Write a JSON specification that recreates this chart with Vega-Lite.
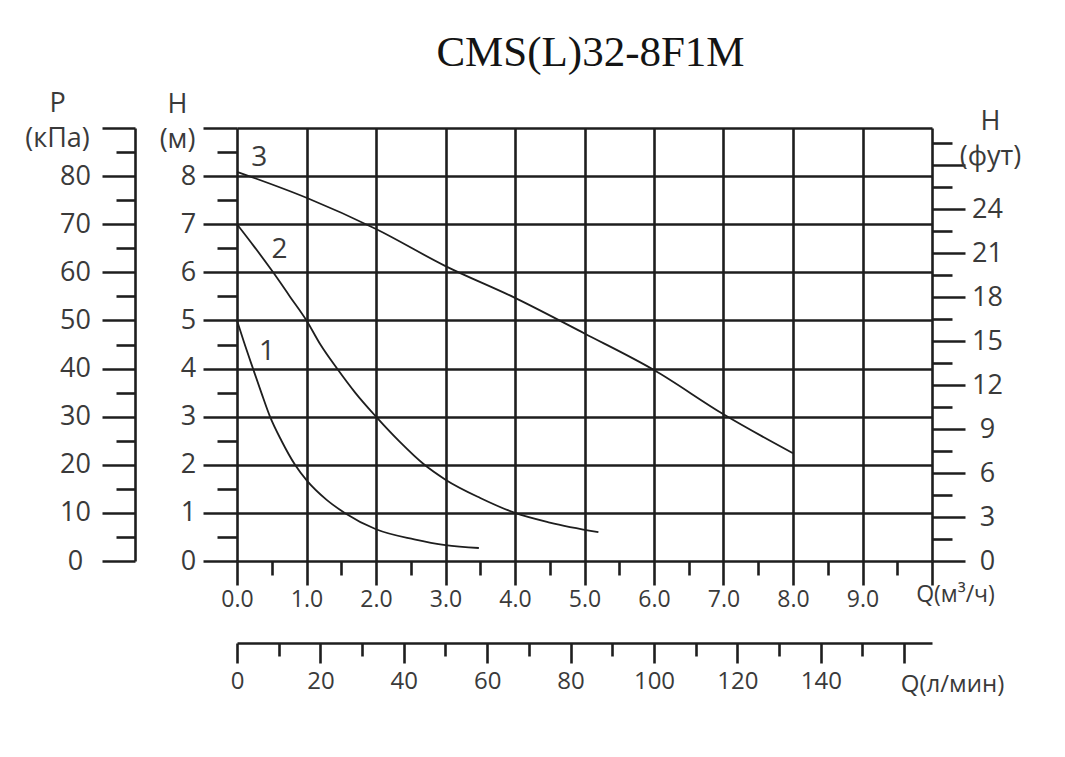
{
  "$schema": "https://vega.github.io/schema/vega-lite/v6.json",
  "autosize": "none",
  "width": 695,
  "height": 433,
  "padding": {"left": 237, "top": 128, "right": 133, "bottom": 196},
  "background": "white",
  "title": {
    "text": "CMS(L)32-8F1M",
    "font": "Liberation Serif",
    "fontSize": 43,
    "fontWeight": "normal",
    "color": "#141414",
    "anchor": "middle",
    "frame": "group",
    "baseline": "alphabetic",
    "offset": -20,
    "dx": 6
  },
  "datasets": {
    "curves": [
      {"curve": "1", "Q": 0, "H": 5.0},
      {"curve": "1", "Q": 0.1, "H": 4.55},
      {"curve": "1", "Q": 0.23, "H": 4.0},
      {"curve": "1", "Q": 0.35, "H": 3.5},
      {"curve": "1", "Q": 0.475, "H": 3.0},
      {"curve": "1", "Q": 0.64, "H": 2.5},
      {"curve": "1", "Q": 0.835, "H": 2.0},
      {"curve": "1", "Q": 1.0, "H": 1.68},
      {"curve": "1", "Q": 1.29, "H": 1.27},
      {"curve": "1", "Q": 1.55, "H": 1.0},
      {"curve": "1", "Q": 2.0, "H": 0.66},
      {"curve": "1", "Q": 2.55, "H": 0.45},
      {"curve": "1", "Q": 3.0, "H": 0.33},
      {"curve": "1", "Q": 3.48, "H": 0.27},
      {"curve": "2", "Q": 0, "H": 7.0},
      {"curve": "2", "Q": 0.25, "H": 6.53},
      {"curve": "2", "Q": 0.52, "H": 6.0},
      {"curve": "2", "Q": 0.76, "H": 5.5},
      {"curve": "2", "Q": 1.0, "H": 5.0},
      {"curve": "2", "Q": 1.2, "H": 4.5},
      {"curve": "2", "Q": 1.44, "H": 4.0},
      {"curve": "2", "Q": 1.7, "H": 3.5},
      {"curve": "2", "Q": 2.0, "H": 3.0},
      {"curve": "2", "Q": 2.34, "H": 2.48},
      {"curve": "2", "Q": 2.68, "H": 2.02},
      {"curve": "2", "Q": 3.0, "H": 1.69},
      {"curve": "2", "Q": 3.5, "H": 1.31},
      {"curve": "2", "Q": 4.0, "H": 1.0},
      {"curve": "2", "Q": 4.5, "H": 0.8},
      {"curve": "2", "Q": 5.2, "H": 0.6},
      {"curve": "3", "Q": 0, "H": 8.09},
      {"curve": "3", "Q": 1, "H": 7.55},
      {"curve": "3", "Q": 2, "H": 6.9},
      {"curve": "3", "Q": 3, "H": 6.13},
      {"curve": "3", "Q": 4, "H": 5.47},
      {"curve": "3", "Q": 5, "H": 4.73},
      {"curve": "3", "Q": 6, "H": 3.97},
      {"curve": "3", "Q": 7, "H": 3.05},
      {"curve": "3", "Q": 8, "H": 2.24}
    ],
    "numbers": [
      {"curve": "1", "Q": 0.43, "H": 4.35},
      {"curve": "2", "Q": 0.61, "H": 6.47},
      {"curve": "3", "Q": 0.32, "H": 8.37}
    ],
    "extents": [
      {"Q": 0, "H": 0, "P": 0, "ft": 0, "lpm": 0},
      {"Q": 10, "H": 9, "P": 90, "ft": 29.53, "lpm": 166.67}
    ]
  },
  "resolve": {
    "scale": {"x": "independent", "y": "independent"},
    "axis": {"x": "independent", "y": "independent"}
  },
  "layer": [
    {
      "data": {"name": "curves"},
      "mark": {"type": "line", "color": "#1e1e1e", "strokeWidth": 1.8, "interpolate": "monotone"},
      "encoding": {
        "detail": {"field": "curve"},
        "x": {
          "field": "Q", "type": "quantitative",
          "scale": {"domain": [0, 10], "nice": false, "zero": false},
          "axis": {
            "orient": "bottom", "values": [0, 1, 2, 3, 4, 5, 6, 7, 8, 9, 10],
            "grid": true, "gridColor": "#1e1e1e", "gridWidth": 2.6, "gridOpacity": 1,
            "domain": false, "tickSize": 24, "tickWidth": 2.6, "tickColor": "#1e1e1e",
            "format": ".1f", "labelExpr": "datum.value < 10 ? datum.label : ''",
            "labelFont": "Open Sans", "labelFontSize": 23, "labelColor": "#3a3a3a",
            "labelPadding": 3, "labelFlush": false, "labelOverlap": false,
            "title": "Q(м³/ч)", "titleX": 718, "titleY": 33, "titleAlign": "center", "titleBaseline": "middle",
            "titleFont": "Open Sans", "titleFontSize": 23, "titleFontWeight": "normal", "titleColor": "#3a3a3a"
          }
        },
        "y": {
          "field": "H", "type": "quantitative",
          "scale": {"domain": [0, 9], "nice": false},
          "axis": {
            "orient": "left", "values": [0, 1, 2, 3, 4, 5, 6, 7, 8, 9],
            "grid": true, "gridColor": "#1e1e1e", "gridWidth": 2.6, "gridOpacity": 1,
            "domain": false, "tickSize": 34, "tickWidth": 2.6, "tickColor": "#1e1e1e",
            "labelExpr": "datum.value < 9 ? datum.label : ''",
            "labelFont": "Open Sans", "labelFontSize": 27, "labelColor": "#3a3a3a",
            "labelAlign": "center", "labelBaseline": "middle", "labelPadding": 15, "labelFlush": false, "labelOverlap": false,
            "title": ["H", "(м)"], "titleAngle": 0, "titleX": -60, "titleY": -24,
            "titleAlign": "center", "titleBaseline": "middle", "titleLineHeight": 35,
            "titleFont": "Open Sans", "titleFontSize": 27, "titleFontWeight": "normal", "titleColor": "#3a3a3a"
          }
        }
      }
    },
    {
      "data": {"name": "numbers"},
      "mark": {"type": "text", "font": "Open Sans", "fontSize": 28, "color": "#3a3a3a", "align": "center", "baseline": "middle"},
      "encoding": {
        "x": {"field": "Q", "type": "quantitative", "scale": {"domain": [0, 10], "nice": false, "zero": false}, "axis": null},
        "y": {"field": "H", "type": "quantitative", "scale": {"domain": [0, 9], "nice": false}, "axis": null},
        "text": {"field": "curve"}
      }
    },
    {
      "data": {"name": "extents"},
      "mark": {"type": "point", "opacity": 0},
      "encoding": {
        "y": {
          "field": "H", "type": "quantitative",
          "scale": {"domain": [0, 9], "nice": false},
          "axis": {
            "orient": "left", "values": [0.5, 1.5, 2.5, 3.5, 4.5, 5.5, 6.5, 7.5, 8.5],
            "grid": false, "domain": false, "labels": false, "title": null,
            "tickSize": 20, "tickWidth": 2.6, "tickColor": "#1e1e1e"
          }
        }
      }
    },
    {
      "data": {"name": "extents"},
      "mark": {"type": "point", "opacity": 0},
      "encoding": {
        "x": {
          "field": "Q", "type": "quantitative",
          "scale": {"domain": [0, 10], "nice": false, "zero": false},
          "axis": {
            "orient": "bottom", "values": [0.5, 1.5, 2.5, 3.5, 4.5, 5.5, 6.5, 7.5, 8.5, 9.5],
            "grid": false, "domain": false, "labels": false, "title": null,
            "tickSize": 14, "tickWidth": 2.6, "tickColor": "#1e1e1e"
          }
        }
      }
    },
    {
      "data": {"name": "extents"},
      "mark": {"type": "point", "opacity": 0},
      "encoding": {
        "y": {
          "field": "P", "type": "quantitative",
          "scale": {"domain": [0, 90], "nice": false},
          "axis": {
            "orient": "left", "offset": 102, "values": [0, 10, 20, 30, 40, 50, 60, 70, 80, 90],
            "grid": false, "domain": true, "domainColor": "#1e1e1e", "domainWidth": 2.6,
            "tickSize": 33, "tickWidth": 2.6, "tickColor": "#1e1e1e",
            "labelExpr": "datum.value < 90 ? datum.label : ''",
            "labelFont": "Open Sans", "labelFontSize": 27, "labelColor": "#3a3a3a",
            "labelAlign": "center", "labelBaseline": "middle", "labelPadding": 27, "labelFlush": false, "labelOverlap": false,
            "title": ["P", "(кПа)"], "titleAngle": 0, "titleX": -78, "titleY": -25,
            "titleAlign": "center", "titleBaseline": "middle", "titleLineHeight": 35,
            "titleFont": "Open Sans", "titleFontSize": 27, "titleFontWeight": "normal", "titleColor": "#3a3a3a"
          }
        }
      }
    },
    {
      "data": {"name": "extents"},
      "mark": {"type": "point", "opacity": 0},
      "encoding": {
        "y": {
          "field": "P", "type": "quantitative",
          "scale": {"domain": [0, 90], "nice": false},
          "axis": {
            "orient": "left", "offset": 102, "values": [5, 15, 25, 35, 45, 55, 65, 75, 85],
            "grid": false, "domain": false, "labels": false, "title": null,
            "tickSize": 19, "tickWidth": 2.6, "tickColor": "#1e1e1e"
          }
        }
      }
    },
    {
      "data": {"name": "extents"},
      "mark": {"type": "point", "opacity": 0},
      "encoding": {
        "y": {
          "field": "ft", "type": "quantitative",
          "scale": {"domain": [0, 29.53], "nice": false},
          "axis": {
            "orient": "right", "values": [0, 3, 6, 9, 12, 15, 18, 21, 24, 27],
            "grid": false, "domain": false,
            "tickSize": 33, "tickWidth": 2.6, "tickColor": "#1e1e1e",
            "labelExpr": "datum.value < 27 ? datum.label : ''",
            "labelFont": "Open Sans", "labelFontSize": 27, "labelColor": "#3a3a3a",
            "labelAlign": "center", "labelBaseline": "middle", "labelPadding": 22, "labelFlush": false, "labelOverlap": false,
            "title": ["H", "(фут)"], "titleAngle": 0, "titleX": 58, "titleY": -7,
            "titleAlign": "center", "titleBaseline": "middle", "titleLineHeight": 35,
            "titleFont": "Open Sans", "titleFontSize": 27, "titleFontWeight": "normal", "titleColor": "#3a3a3a"
          }
        }
      }
    },
    {
      "data": {"name": "extents"},
      "mark": {"type": "point", "opacity": 0},
      "encoding": {
        "y": {
          "field": "ft", "type": "quantitative",
          "scale": {"domain": [0, 29.53], "nice": false},
          "axis": {
            "orient": "right", "values": [1.5, 4.5, 7.5, 10.5, 13.5, 16.5, 19.5, 22.5, 25.5, 28.5],
            "grid": false, "domain": false, "labels": false, "title": null,
            "tickSize": 20, "tickWidth": 2.6, "tickColor": "#1e1e1e"
          }
        }
      }
    },
    {
      "data": {"name": "extents"},
      "mark": {"type": "point", "opacity": 0},
      "encoding": {
        "x": {
          "field": "lpm", "type": "quantitative",
          "scale": {"domain": [0, 166.67], "nice": false, "zero": false},
          "axis": {
            "orient": "bottom", "offset": 82, "values": [0, 20, 40, 60, 80, 100, 120, 140, 160],
            "grid": false, "domain": true, "domainColor": "#1e1e1e", "domainWidth": 2.6,
            "tickSize": 20, "tickWidth": 2.6, "tickColor": "#1e1e1e",
            "labelExpr": "datum.value < 160 ? datum.label : ''",
            "labelFont": "Open Sans", "labelFontSize": 24, "labelColor": "#3a3a3a",
            "labelPadding": 6, "labelFlush": false, "labelOverlap": false,
            "title": "Q(л/мин)", "titleX": 715, "titleY": 41, "titleAlign": "center", "titleBaseline": "middle",
            "titleFont": "Open Sans", "titleFontSize": 24, "titleFontWeight": "normal", "titleColor": "#3a3a3a"
          }
        }
      }
    },
    {
      "data": {"name": "extents"},
      "mark": {"type": "point", "opacity": 0},
      "encoding": {
        "x": {
          "field": "lpm", "type": "quantitative",
          "scale": {"domain": [0, 166.67], "nice": false, "zero": false},
          "axis": {
            "orient": "bottom", "offset": 82, "values": [10, 30, 50, 70, 90, 110, 130, 150],
            "grid": false, "domain": false, "labels": false, "title": null,
            "tickSize": 13, "tickWidth": 2.6, "tickColor": "#1e1e1e"
          }
        }
      }
    }
  ],
  "config": {
    "view": {"stroke": null}
  }
}
